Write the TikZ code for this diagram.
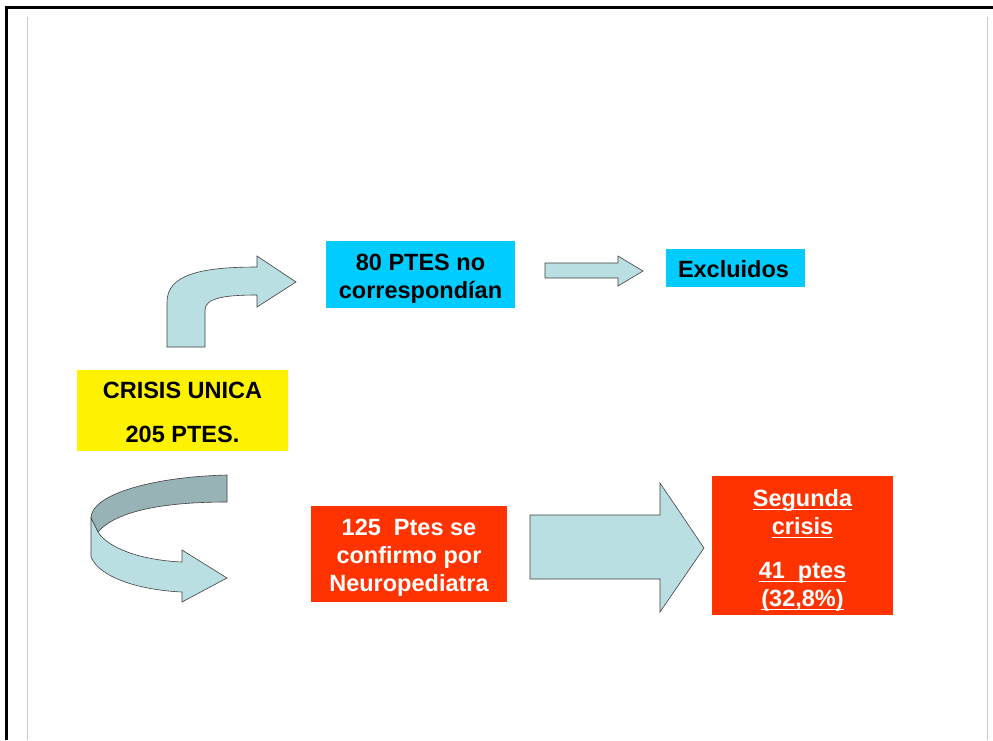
\documentclass[tikz,border=0pt]{standalone}
\usepackage{fontspec}
\setmainfont{Liberation Sans}
\newcommand{\ulbox}[1]{\setbox0=\hbox{#1}\rlap{\rule[-4pt]{\wd0}{1.5pt}}\box0}
\definecolor{skyblue}{HTML}{00CCFF}
\definecolor{redorange}{HTML}{FF3300}
\definecolor{arrowfill}{HTML}{B9DFE2}
\definecolor{arrowback}{HTML}{97B3B5}
\definecolor{arrowline}{HTML}{404040}

\begin{document}
\begin{tikzpicture}[
	x=1pt, y=-1pt,
	box/.style={rectangle, inner sep=0pt},
	boxtext/.style={inner sep=0pt, align=center, font=\bfseries\fontsize{23.5}{28}\selectfont},
	yellowbox/.style={box, fill=yellow},
	cyanbox/.style={box, fill=skyblue},
	redbox/.style={box, fill=redorange},
	blockarrow/.style={fill=arrowfill, draw=arrowline, line width=0.6pt, line join=miter}
	]
	\useasboundingbox (0,0) rectangle (993,740);
	
	% Frame
	\draw[line width=2.5pt] (6.5,740) -- (6.5,7.5) -- (993,7.5);
	\draw[black!20, line width=1pt] (27.5,17) -- (27.5,740);
	\draw[black!20, line width=1pt] (987.5,17) -- (987.5,740);
	
	% Boxes
	\node[yellowbox, minimum width=211, minimum height=81,
		label={[boxtext, yshift=-2pt]center:{CRISIS UNICA\\[16pt]205 PTES.}}] (crisis) at (182.5,410.5) {};
	\node[cyanbox, minimum width=189, minimum height=67,
		label={[boxtext, yshift=-4.5pt]center:{80 PTES no\\correspondían}}] (noCorresp) at (420.5,274.5) {};
	\node[cyanbox, minimum width=139, minimum height=38,
		label={[boxtext, yshift=-1pt, xshift=-2pt]center:{Excluidos}}] (excluidos) at (735.5,268) {};
	\node[redbox, minimum width=196, minimum height=96,
		label={[boxtext, text=white, yshift=-4pt]center:{125\ \ Ptes se\\confirmo por\\Neuropediatra}}] (confirmados) at (409,554) {};
	\node[redbox, minimum width=181, minimum height=139,
		label={[boxtext, text=white, yshift=-4.5pt]center:{\ulbox{Segunda}\\\ulbox{crisis}\\[16pt]\ulbox{41\ \ ptes}\\\ulbox{(32,8\%)}}}] (segunda) at (802.5,545.5) {};
	
	% Arrows
	\draw[blockarrow] (167,347) -- (167,302) .. controls (167,275) and (200,267) .. (257,267)
		-- (257,256) -- (296,282) -- (257,307) -- (257,295)
		.. controls (225,295) and (205,298) .. (205,310) -- (205,347) -- cycle;
	\draw[blockarrow] (545,263) -- (618,263) -- (618,256) -- (643,271) -- (618,286) -- (618,278) -- (545,278) -- cycle;
	\draw[blockarrow] (530,515) -- (660,515) -- (660,483) -- (704,548) -- (660,612) -- (660,579) -- (530,579) -- cycle;
	
	% Circular arrow
	\draw[blockarrow, fill=arrowback] (227,475) .. controls (150,477) and (91,495) .. (91,518)
		-- (98,532) .. controls (115,512) and (160,502) .. (227,502) -- cycle;
	\draw[blockarrow] (91,518) -- (91,557) .. controls (100,578) and (140,590) .. (182,592)
		-- (182,602) -- (227,578) -- (182,550) -- (182,562)
		.. controls (140,560) and (108,548) .. (98,532) -- cycle;
	
\end{tikzpicture}
\end{document}
